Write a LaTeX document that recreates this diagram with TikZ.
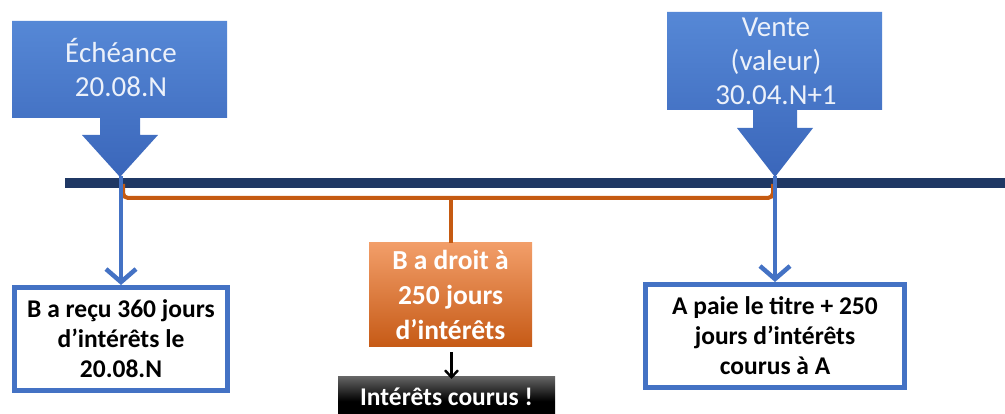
\documentclass[tikz,border=0pt]{standalone}
\usepackage{fontspec}
\setmainfont{Carlito}
\usetikzlibrary{arrows.meta}
\definecolor{tlblue}{RGB}{31,56,100}
\definecolor{cblue}{RGB}{68,114,196}
\definecolor{cbluetop}{RGB}{86,136,214}
\definecolor{cbluebot}{RGB}{58,102,186}
\definecolor{borange}{RGB}{197,90,17}
\definecolor{otop}{RGB}{242,158,105}
\definecolor{obot}{RGB}{198,90,22}
\definecolor{ctext}{RGB}{236,241,250}
\tikzset{
  calltext/.style={text=ctext, align=center, font=\fontsize{29}{34}\selectfont},
  infobox/.style={draw=cblue, line width=5pt, fill=white, text=black, align=center,
    font=\bfseries\fontsize{25.5}{30}\selectfont, inner sep=0pt},
  bluearrow/.style={draw=cblue, line width=4.5pt, -{Straight Barb[length=13pt,width=30pt,line width=4.5pt]}},
  bracket/.style={draw=borange, line width=4pt, rounded corners=5pt},
}
\begin{document}
\begin{tikzpicture}[x=1pt,y=-1pt]
\useasboundingbox (0,0) rectangle (1005,414);
% callout shapes
\shade[top color=cbluetop, bottom color=cbluebot]
  (12,21) -- (227,21) -- (227,118) -- (140,118) -- (140,135) -- (158,135) -- (120,177)
  -- (82,135) -- (100,135) -- (100,118) -- (12,118) -- cycle;
\shade[top color=cbluetop, bottom color=cbluebot]
  (667,12) -- (882,12) -- (882,110) -- (797,110) -- (797,128) -- (813,128) -- (775,177)
  -- (737,128) -- (753,128) -- (753,110) -- (667,110) -- cycle;
\node[calltext] (c1) at (121,68) {Échéance\\20.08.N};
\node[calltext] (c2) at (776,61) {Vente\\(valeur)\\30.04.N+1};
% timeline
\node[fill=tlblue, inner sep=0pt, minimum width=940pt, minimum height=10pt, anchor=west] (tl) at (65,183) {};
\coordinate (t1) at (121,176);
\coordinate (t2) at (775,176);
% boxes
\node[infobox, minimum width=213pt, minimum height=103pt] (lb) at (121,339) {B a reçu 360 jours\\d’intérêts le\\20.08.N};
\node[infobox, minimum width=259pt, minimum height=103pt] (rb) at (775,336) {A paie le titre + 250\\jours d’intérêts\\courus à A};
\node[top color=otop, bottom color=obot, text=white, align=center, inner sep=0pt,
  minimum width=163pt, minimum height=104pt, font=\bfseries\fontsize{27.5}{35}\selectfont] (ob) at (450.5,295) {B a droit à\\250 jours\\d’intérêts};
\node[top color=black!60, bottom color=black, middle color=black, text=white, inner sep=0pt, anchor=north,
  minimum width=217pt, minimum height=50pt, text height=29pt, text depth=21pt,
  font=\bfseries\fontsize{25.5}{30}\selectfont] (bb) at (446.5,376) {Intérêts courus !};
% bracket
\draw[bracket] (123,184) -- (123,198) -- (773,198) -- (773,184);
\draw[draw=borange, line width=4pt] (ob.north |- 0,198) -- (ob.north);
% arrows
\draw[bluearrow] (t1) -- (lb.north);
\draw[bluearrow] (t2) -- (rb.north);
\draw[line width=2.4pt, -{Straight Barb[length=7pt,width=13pt,line width=2.4pt]}] ([xshift=1pt,yshift=-5pt]ob.south) -- ([xshift=1pt,yshift=-3pt]ob.south |- bb.north);
\end{tikzpicture}
\end{document}
